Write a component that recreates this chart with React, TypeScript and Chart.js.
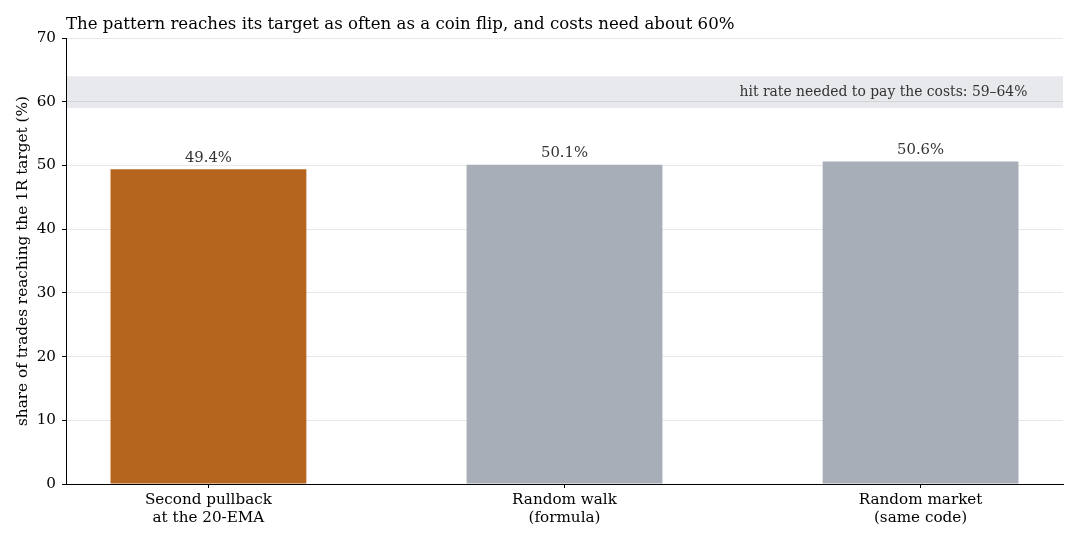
import { useEffect, useRef } from 'react';
import { Chart, registerables } from 'chart.js';

Chart.register(...registerables);

const categories = [
	['Second pullback', 'at the 20-EMA'],
	['Random walk', '(formula)'],
	['Random market', '(same code)'],
];
const hitRates = [49.4, 50.1, 50.6];
const barColors = ['#b5651d', '#a8aeb7', '#a8aeb7'];
const costBand = [59, 64];
const yMax = 70;
const yStep = 10;

const titleText = 'The pattern reaches its target as often as a coin flip, and costs need about 60%';
const yTitle = 'share of trades reaching the 1R target (%)';
const bandNote = 'hit rate needed to pay the costs: 59\u201364%';

const FONT = "'DejaVu Serif', serif";

const overlayPlugin = {
	id: 'overlay',
	beforeDraw(chart: any) {
		const { ctx, chartArea, scales } = chart;
		const yTop = scales.y.getPixelForValue(costBand[1]);
		const yBot = scales.y.getPixelForValue(costBand[0]);
		ctx.save();
		ctx.fillStyle = '#e8e9ec';
		ctx.fillRect(chartArea.left, yTop, chartArea.right - chartArea.left, yBot - yTop);
		ctx.restore();
	},
	afterDatasetsDraw(chart: any) {
		const { ctx, chartArea, scales } = chart;
		ctx.save();
		// value labels
		ctx.fillStyle = '#333';
		ctx.font = `14.8px ${FONT}`;
		ctx.textAlign = 'center';
		ctx.textBaseline = 'bottom';
		hitRates.forEach((v, i) => {
			ctx.fillText(`${v.toFixed(1)}%`, scales.x.getPixelForValue(i), scales.y.getPixelForValue(v) - 4);
		});
		// band note
		ctx.font = `13.9px ${FONT}`;
		ctx.textAlign = 'right';
		ctx.textBaseline = 'middle';
		ctx.fillText(bandNote, scales.x.getPixelForValue(2.3), scales.y.getPixelForValue(61.5));
		// title
		ctx.fillStyle = '#000';
		ctx.font = `16.6px ${FONT}`;
		ctx.textAlign = 'left';
		ctx.fillText(titleText, chartArea.left, 25);
		// y axis title
		ctx.font = `15.3px ${FONT}`;
		ctx.textAlign = 'center';
		ctx.translate(23, (chartArea.top + chartArea.bottom) / 2);
		ctx.rotate(-Math.PI / 2);
		ctx.fillText(yTitle, 0, 0);
		ctx.restore();
	},
};

const App = () => {
	const chartRef = useRef<HTMLCanvasElement>(null);

	useEffect(() => {
		document.body.style.margin = '0';
		const ctx = chartRef.current?.getContext('2d');
		if (!ctx) return;

		const chart = new Chart(ctx, {
			type: 'bar',
			data: {
				datasets: [
					{
						data: hitRates.map((v, i) => ({ x: i, y: v })),
						backgroundColor: barColors,
						borderWidth: 0,
						barPercentage: 0.55,
						categoryPercentage: 1,
					},
				],
			},
			options: {
				responsive: true,
				maintainAspectRatio: false,
				animation: false,
				layout: { padding: { left: 0, right: 17, top: 38, bottom: 0 } },
				plugins: {
					legend: { display: false },
					tooltip: { enabled: false },
				},
				scales: {
					x: {
						type: 'linear',
						min: -0.4,
						max: 2.4,
						offset: false,
						afterBuildTicks: (axis: any) => {
							axis.ticks = categories.map((_, i) => ({ value: i }));
						},
						afterFit: (axis: any) => {
							axis.height = 56;
						},
						ticks: {
							callback: (value: any) => categories[value],
							color: '#000',
							font: { family: FONT, size: 15.2 },
							padding: 3,
							maxRotation: 0,
						},
						grid: { offset: false, drawOnChartArea: false, tickColor: '#000', tickLength: 4 },
						border: { color: '#000' },
					},
					y: {
						min: 0,
						max: yMax,
						afterFit: (axis: any) => {
							axis.width = 66;
						},
						ticks: {
							stepSize: yStep,
							color: '#000',
							font: { family: FONT, size: 15.2 },
							padding: 6,
						},
						grid: { color: 'rgba(0,0,0,0.09)', tickColor: '#000', tickLength: 4 },
						border: { color: '#000' },
					},
				},
			},
			plugins: [overlayPlugin],
		});

		return () => {
			chart.destroy();
		};
	}, []);

	return (
		<div style={{ width: 1080, height: 540, position: 'relative' }}>
			<canvas ref={chartRef} />
		</div>
	);
};

export default App;
